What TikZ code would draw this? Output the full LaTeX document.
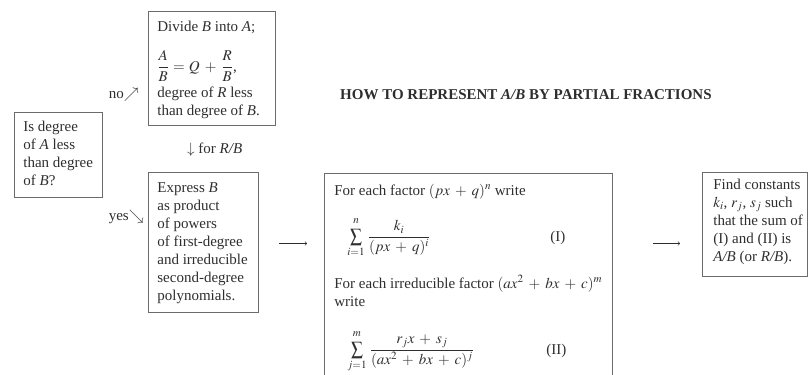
\documentclass[tikz,border=0pt]{standalone}
\usepackage{amsmath}
\usepackage{mathptmx}
\usepackage{fontspec}
\setmainfont{Liberation Serif}
\definecolor{linec}{gray}{0.42}
\definecolor{txtc}{gray}{0.18}
\newcommand\bxt[3]{\parbox[t]{#1}{\raggedright\leftskip=#2\lineskiplimit=-100pt\medmuskip=6mu plus 2mu\thickmuskip=5mu plus 2mu\relax #3}}
\newcommand\bigsum{\mathop{\vcenter{\hbox{\scalebox{0.78}[0.88]{$\displaystyle\sum$}}}}\limits}
\begin{document}
\begin{tikzpicture}[x=1pt,y=-1pt,
  every node/.style={font=\fontsize{15}{18}\selectfont, text=txtc},
  box/.style={draw=linec, line width=0.8pt, inner sep=0pt, anchor=base west},
  lbl/.style={inner sep=0pt},
  conn/.style={draw=txtc, line width=0.6pt, ->}]
\useasboundingbox (0,0) rectangle (809,375);
\clip (0,0) rectangle (809,375);

\node[box, text height=19.5pt, text depth=65.5pt] (q) at (14,131.5)
  {\bxt{88pt}{9pt}{Is degree\\ of \textit{A} less\\ than degree\\ of \textit{B}?}};

\node[box, text height=20pt, text depth=94pt] (div) at (148,31)
  {\bxt{127pt}{9pt}{Divide \textit{B} into \textit{A};\\[22pt]
   $\dfrac{A}{B}=Q+\dfrac{R}{B}$,\\[8.5pt]
   degree of \textit{R} less\\ than degree of \textit{B}.}};

\node[box, text height=20.5pt, text depth=119.5pt] (expr) at (148,192.5)
  {\bxt{110pt}{9pt}{Express \textit{B}\\ as product\\ of powers\\ of first-degree\\ and irreducible\\ second-degree\\ polynomials.}};

\node[box, text height=22pt, text depth=250pt] (each) at (324,195)
  {\bxt{288pt}{10pt}{For each factor $(px+q)^n$ write\\[28pt]
   \hspace*{13pt}\makebox[203pt][l]{$\bigsum_{\rule{0pt}{8pt}i=1}^{\rule[-3.5pt]{0pt}{0pt}n}\,\dfrac{k_i}{(px+q)^i}$}(I)\\[29pt]
   For each irreducible factor $(ax^2+bx+c)^m$\\
   write\\[30pt]
   \hspace*{13pt}\makebox[199pt][l]{$\bigsum_{\rule{0pt}{8pt}j=1}^{\rule[-3.5pt]{0pt}{0pt}m}\,\dfrac{r_jx+s_j}{(ax^2+bx+c)^j}$}(II)}};

\node[box, text height=16.5pt, text depth=87.5pt] (find) at (702,189)
  {\bxt{105pt}{11pt}{Find constants\\ $k_i$, $r_j$, $s_j$ such\\ that the sum of\\ (I) and (II) is\\ \textit{A/B} (or \textit{R/B}).}};

\node[lbl, anchor=base west] (title) at (340,99)
  {\textbf{HOW TO REPRESENT \textit{A/B} BY PARTIAL FRACTIONS}};

\node[lbl, anchor=base east] (no) at (139,98) {no$\nearrow$};
\node[lbl, anchor=base east] (yes) at (144,220) {yes$\searrow$};
\node[lbl, anchor=base west] (forRB) at (187,153) {$\downarrow$ for \textit{R/B}};

\coordinate (ay) at (0,243.5);
\draw[conn, shorten <=20pt, shorten >=17pt] (expr.east |- ay) -- (each.west |- ay);
\draw[conn, shorten <=40pt, shorten >=22pt] (each.east |- ay) -- (find.west |- ay);
\end{tikzpicture}
\end{document}
